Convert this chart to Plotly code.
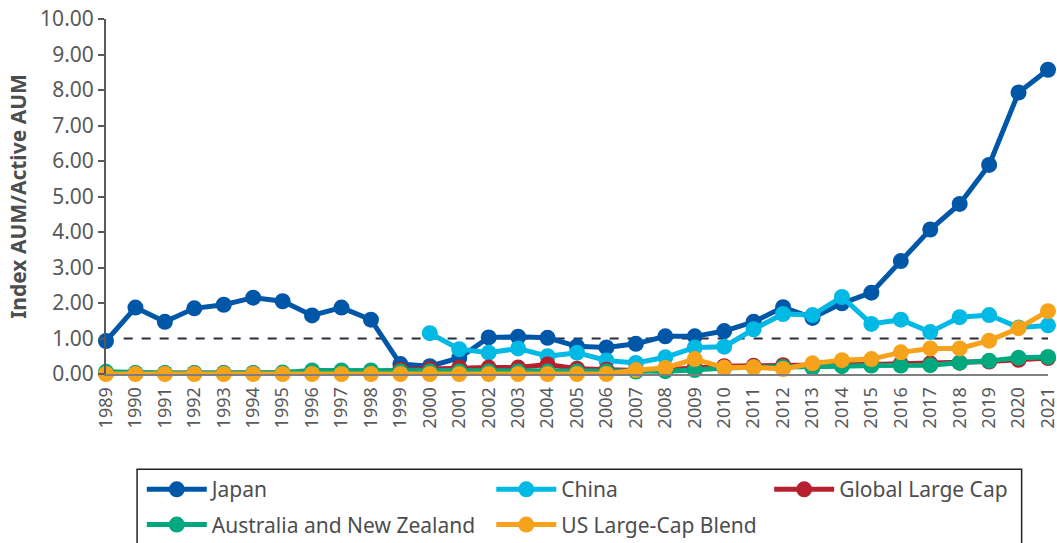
import plotly.graph_objects as go

years = list(range(1989, 2022))

japan = [0.93, 1.87, 1.47, 1.85, 1.95, 2.15, 2.05, 1.65, 1.87, 1.53,
         0.28, 0.22, 0.45, 1.03, 1.05, 1.02, 0.78, 0.75, 0.85, 1.06,
         1.06, 1.21, 1.47, 1.88, 1.58, 1.99, 2.29, 3.18, 4.07, 4.79,
         5.89, 7.93, 8.57]
china_years = list(range(2000, 2022))
china = [1.15, 0.70, 0.60, 0.72, 0.50, 0.60, 0.38, 0.31, 0.47, 0.75,
         0.77, 1.26, 1.69, 1.66, 2.17, 1.41, 1.53, 1.18, 1.60, 1.66,
         1.31, 1.37]
global_lc = [0.02, 0.02, 0.02, 0.02, 0.02, 0.02, 0.02, 0.03, 0.03, 0.04,
             0.12, 0.14, 0.18, 0.18, 0.18, 0.27, 0.15, 0.12, 0.10, 0.12,
             0.18, 0.22, 0.23, 0.25, 0.25, 0.26, 0.27, 0.29, 0.30, 0.32,
             0.35, 0.40, 0.45]
aus_nz = [0.06, 0.03, 0.03, 0.03, 0.03, 0.03, 0.04, 0.10, 0.10, 0.10,
          0.07, 0.07, 0.07, 0.07, 0.07, 0.07, 0.07, 0.07, 0.07, 0.08,
          0.11, 0.17, 0.19, 0.20, 0.18, 0.22, 0.24, 0.24, 0.25, 0.32,
          0.37, 0.46, 0.48]
us_blend = [0.0, 0.0, 0.0, 0.0, 0.0, 0.0, 0.0, 0.0, 0.0, 0.0,
            0.0, 0.0, 0.0, 0.0, 0.0, 0.0, 0.0, 0.0, 0.11, 0.17,
            0.42, 0.18, 0.19, 0.14, 0.30, 0.39, 0.42, 0.61, 0.72, 0.72,
            0.94, 1.29, 1.77]

series = [
    ("Japan", years, japan, "#0057a8", "legend"),
    ("China", china_years, china, "#00b9e4", "legend2"),
    ("Global Large Cap", years, global_lc, "#b7202e", "legend3"),
    ("Australia and New Zealand", years, aus_nz, "#00a87e", "legend"),
    ("US Large-Cap Blend", years, us_blend, "#f7a21b", "legend2"),
]

fig = go.Figure()
for name, xs, ys, col, lg in series:
    fig.add_trace(go.Scatter(
        x=xs, y=ys, name=name, mode="lines+markers",
        line=dict(color=col, width=5),
        marker=dict(color=col, size=16),
        cliponaxis=False, legend=lg, legendgroup=name,
    ))

# parity line at 1.0
fig.add_shape(type="line", xref="x", yref="y", x0=1989.6, x1=2021, y0=1, y1=1,
              line=dict(color="#2b2d3a", width=2, dash="dash"), layer="below")

# legend frame (runs past the bottom of the window, as in the source)
fig.add_shape(type="rect", xref="paper", yref="paper",
              x0=0.033, x1=0.972, y0=-0.56, y1=-0.268,
              line=dict(color="#222222", width=1.5))

leg = dict(orientation="v", xanchor="left", yanchor="top", y=-0.268,
           bgcolor="rgba(0,0,0,0)", borderwidth=0, itemwidth=60,
           tracegroupgap=5, font=dict(family="Noto Sans", size=21, color="#4d4d4f"))

# figure is taller than the window so the legend fits; the window crops it
fig.update_layout(
    width=1057, height=590,
    margin=dict(l=106, r=9, t=19, b=216),
    plot_bgcolor="white", paper_bgcolor="white",
    font=dict(family="Noto Sans", color="#58595b"),
    legend=dict(leg, x=0.038),
    legend2=dict(leg, x=0.409),
    legend3=dict(leg, x=0.704),
    xaxis=dict(
        range=[1989, 2021], tickmode="array", tickvals=years,
        ticktext=[str(y) for y in years], tickangle=-90,
        tickfont=dict(size=18, color="#58595b"), showgrid=False,
        zeroline=False, showline=True, linecolor="#7f7f7f", linewidth=2,
        ticks="", ticklen=0, ticklabelstandoff=4,
        ticklabeloverflow="allow", automargin=False,
    ),
    yaxis=dict(
        range=[0, 10], dtick=1, tickformat=".2f", showgrid=False,
        zeroline=False, showline=True, linecolor="#58595b", linewidth=2,
        ticks="outside", ticklen=6, tickcolor="#58595b", tickwidth=2,
        tickfont=dict(size=21, color="#58595b"), automargin=False,
        title=dict(text="<b>Index AUM/Active AUM</b>", standoff=8,
                   font=dict(size=21, color="#4d4d4f")),
    ),
)

fig.write_html(
    "out.html",
    config={"displayModeBar": False},
    post_script="document.body.style.margin='0';document.body.style.overflow='hidden';",
)
